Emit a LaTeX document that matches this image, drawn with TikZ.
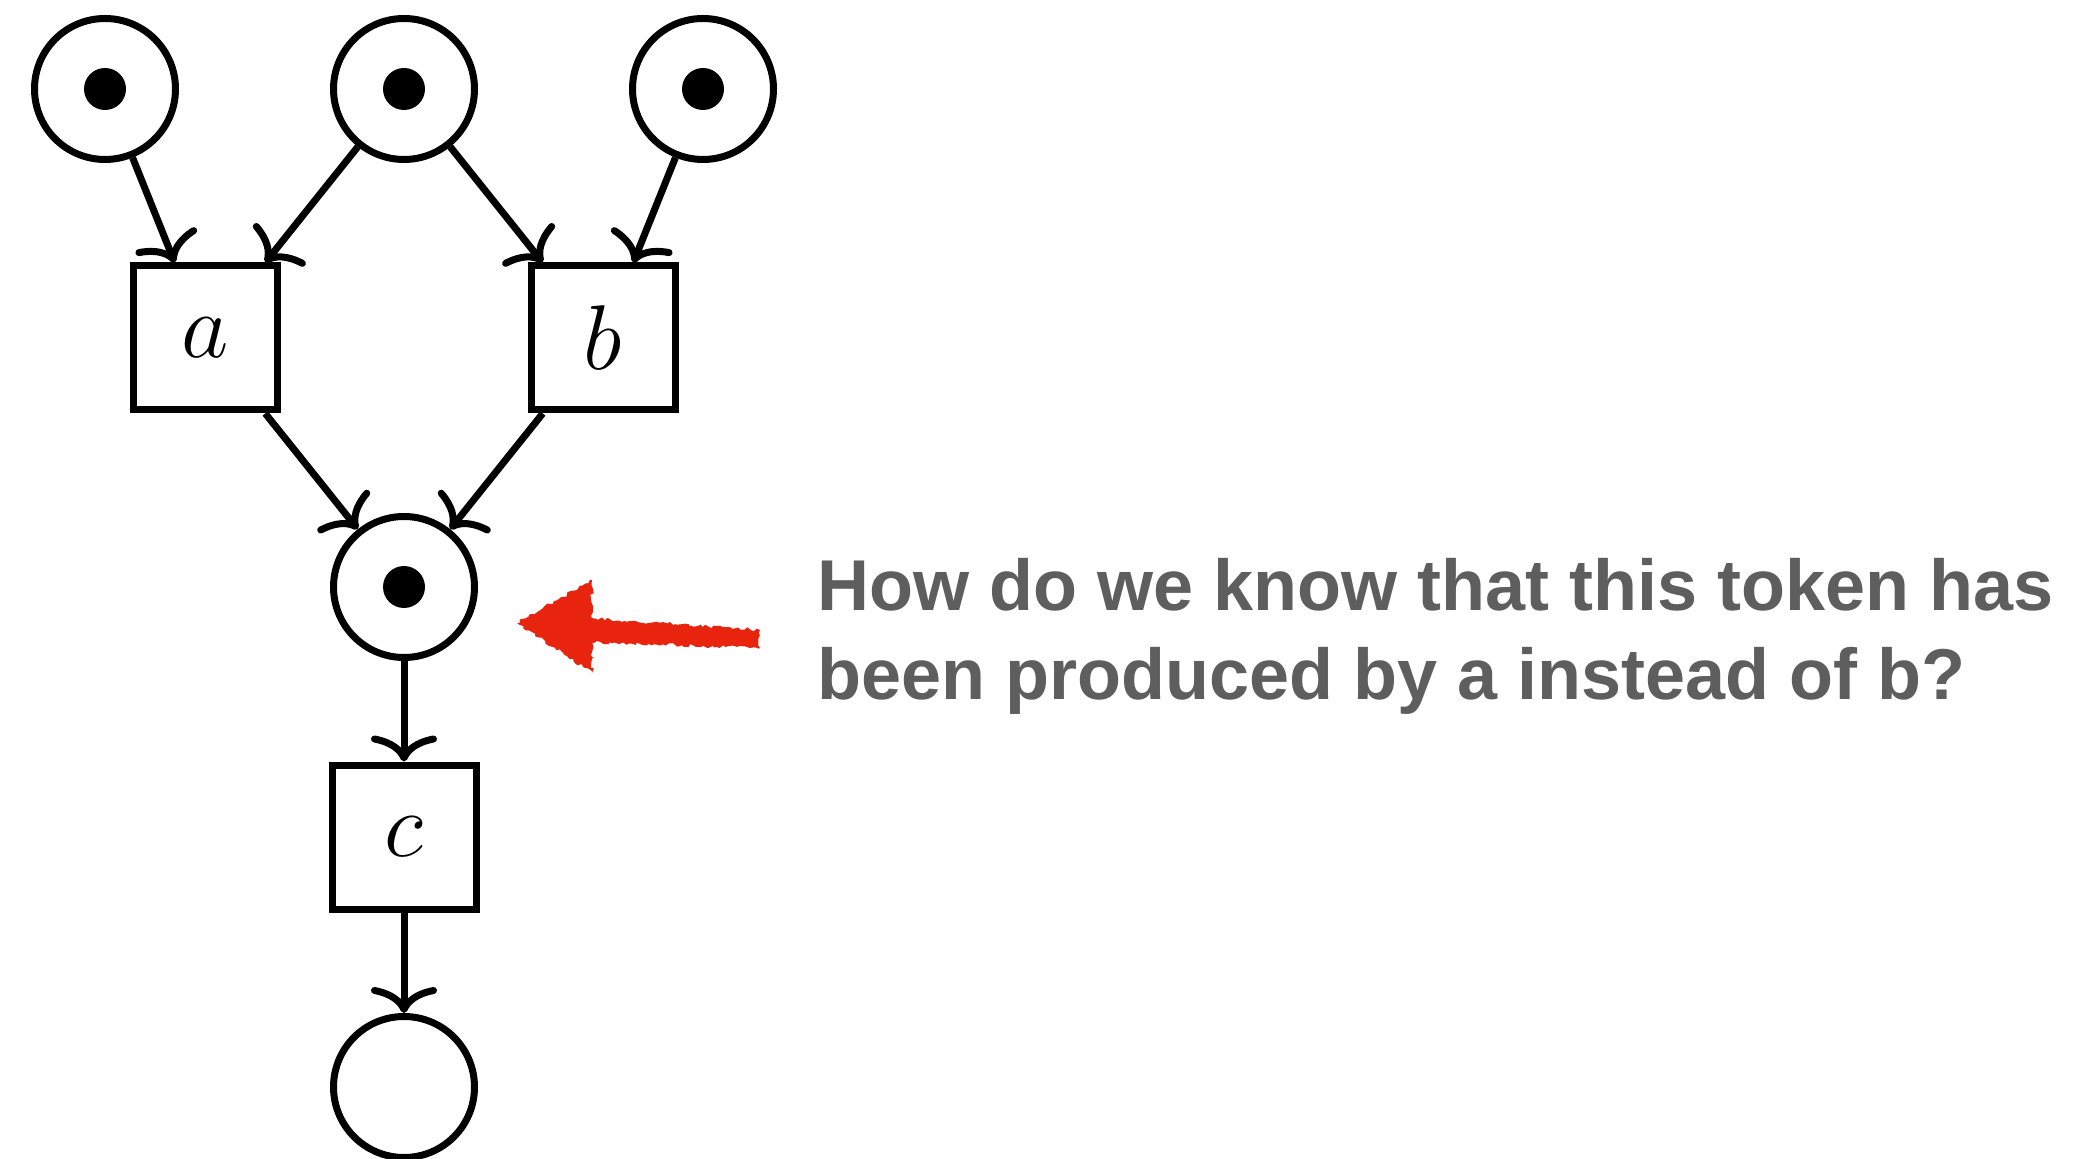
\RequirePackage{fix-cm}
\documentclass[tikz,border=0pt]{standalone}
\usepackage{fontspec}
\setsansfont{Liberation Sans}
\usetikzlibrary{arrows.meta}
\usetikzlibrary{positioning}
\usetikzlibrary{decorations.pathmorphing}
\definecolor{notered}{HTML}{E8240F}
\definecolor{notegray}{HTML}{5E5E5E}
\tikzstyle{place} = [
    circle,
    draw=black,
    line width=3.5pt,
    inner sep=0pt,
    minimum size=70.5pt
]
\tikzstyle{marked} = [
    place,
    path picture={\fill[black] (path picture bounding box.center) circle (10.5pt);}
]
\tikzstyle{transition} = [
    rectangle,
    draw=black,
    line width=3.5pt,
    inner sep=0pt,
    minimum size=72pt, % square boxes
    font=\fontsize{46}{46}\selectfont
]
\tikzstyle{arc} = [
    line width=3.5pt,
    -{To[length=13pt, width=33pt]}
]

\begin{document}
\begin{tikzpicture}[
    node distance = 124.5pt and 99.5pt,
    on grid
]
\useasboundingbox (0,0) rectangle (1038pt,-579.5pt);

% places and transitions
\node [marked] (mid_in) at (202pt,-44.5pt) {};
\node [marked, left=149.5pt of mid_in] (left_in) {};
\node [marked, right=149.5pt of mid_in] (right_in) {};
\node [transition, below left=of mid_in] (a) {$a$};
\node [transition, below right=of mid_in] (b) {$b$};
\node [marked, below=249pt of mid_in] (shared) {};
\node [transition, below=125pt of shared] (c) {$c$};
\node [place, below=125pt of c] (out) {};

% arcs
\draw [arc] (left_in) -- (a);
\draw [arc] (mid_in) -- (a);
\draw [arc] (mid_in) -- (b);
\draw [arc] (right_in) -- (b);
\draw [arc] (a) -- (shared);
\draw [arc] (b) -- (shared);
\draw [arc] (shared) -- (c);
\draw [arc] (c) -- (out);

% note
\coordinate (tip) at (258.5pt,-311.5pt);
\fill [notered, decorate, decoration={random steps, segment length=1.5pt, amplitude=0.9pt}]
    (tip) -- (296pt,-290pt) -- (296pt,-309pt) -- (380pt,-315pt)
    -- (380pt,-324pt) -- (296pt,-321pt) -- (296pt,-336.5pt) -- cycle;
\node [anchor=base west, align=left, text=notegray,
       font=\sffamily\bfseries\fontsize{36}{44}\selectfont] (question)
    at (405pt,-349.5pt)
    {How do we know that this token has\\been produced by a instead of b?};
\end{tikzpicture}
\end{document}
